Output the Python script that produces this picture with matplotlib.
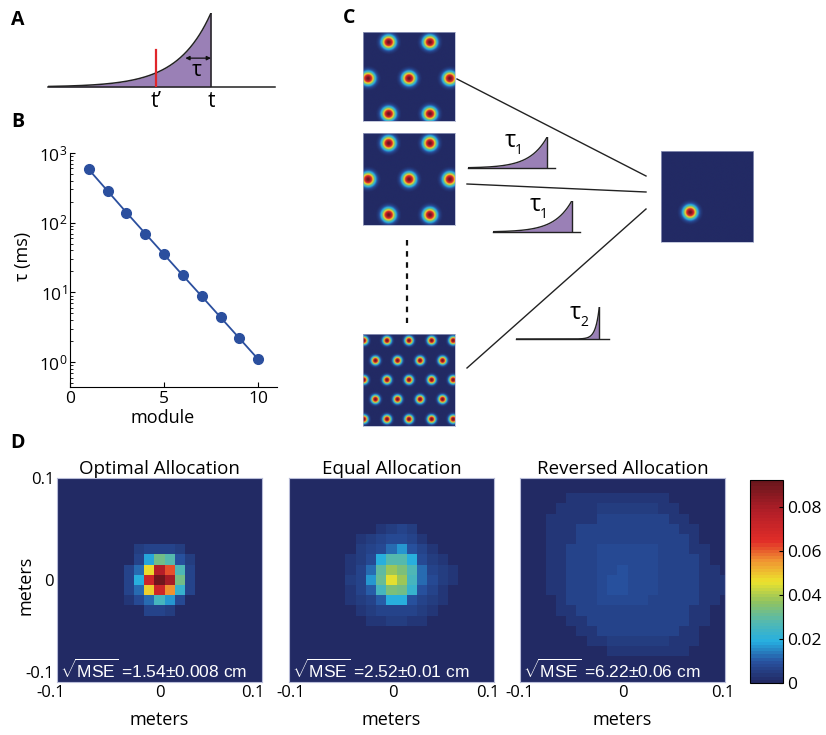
import numpy as np
import matplotlib
matplotlib.use('Agg')
import matplotlib.pyplot as plt
import matplotlib.transforms as mtransforms
from matplotlib.colors import LinearSegmentedColormap, Normalize
from matplotlib.cm import ScalarMappable

plt.rcParams['font.family'] = ['Open Sans', 'DejaVu Sans']
plt.rcParams['mathtext.fontset'] = 'custom'
plt.rcParams['mathtext.rm'] = 'Liberation Sans'
plt.rcParams['mathtext.it'] = 'Liberation Sans:italic'
plt.rcParams['mathtext.bf'] = 'Liberation Sans:bold'

W, H = 826, 735

# ---------------- data ----------------
# Panel B
modules = [1, 2, 3, 4, 5, 6, 7, 8, 9, 10]
tau_ms = [580, 285, 140, 70, 35, 17.5, 8.8, 4.4, 2.2, 1.1]
b_xticks = [0, 5, 10]
b_yticks = [1, 10, 100, 1000]

# Panel A / C kernel time constants (fraction of kernel width)
tau_A = 0.146
tau_1 = 0.20
tau_2 = 0.04

# Panel C grid-cell bump centres (fraction of image width / height from top-left)
c1_x = [0.278, 0.729, 0.054, 0.501, 0.946, 0.278, 0.729]
c1_y = [0.112, 0.112, 0.520, 0.520, 0.520, 0.920, 0.920]
c2_x = [0.278, 0.729, 0.054, 0.501, 0.946, 0.278, 0.729]
c2_y = [0.109, 0.109, 0.502, 0.502, 0.502, 0.891, 0.891]
c3_x = [0.007, 0.260, 0.500, 0.747, 0.982,
        0.134, 0.375, 0.621, 0.866,
        0.007, 0.260, 0.500, 0.747, 0.982,
        0.134, 0.375, 0.621, 0.866,
        0.007, 0.260, 0.500, 0.747, 0.982]
c3_y = [0.069] * 5 + [0.287] * 4 + [0.498] * 5 + [0.710] * 4 + [0.927] * 5
out_x = [0.314]
out_y = [0.673]
c_sigma_big = 0.047
c_sigma_small = 0.028

# Panel D decoded-position histograms (21x21 bins, units of 1e-3, background BG)
BG = 1
VMAX = 0.0925
optimal_rows = {
    7: (8, [5, 6, 7, 6, 5]),
    8: (8, [7, 18, 33, 28, 10, 5]),
    9: (7, [7, 12, 47, 78, 62, 27, 6]),
    10: (7, [7, 20, 70, 90, 80, 32, 7]),
    11: (7, [6, 12, 48, 70, 56, 23, 7]),
    12: (7, [4, 8, 12, 26, 16, 8]),
    13: (9, [6, 6, 5]),
}
equal_rows = {
    5: (9, [4, 5, 6, 5]),
    6: (7, [4, 5, 7, 8, 8, 6, 4]),
    7: (7, [5, 6, 8, 13, 16, 9, 6, 4]),
    8: (6, [4, 5, 8, 20, 28, 28, 20, 8, 5, 4]),
    9: (6, [4, 6, 12, 29, 38, 34, 27, 12, 7, 5, 4]),
    10: (6, [5, 7, 16, 31, 46, 38, 26, 12, 8, 5, 4]),
    11: (6, [4, 7, 11, 25, 34, 32, 22, 9, 6, 4]),
    12: (6, [4, 5, 7, 11, 20, 20, 10, 7, 5, 4]),
    13: (7, [4, 5, 6, 7, 7, 6, 5, 4]),
    14: (8, [4, 4, 5, 5, 4, 4]),
}
reversed_rows = {
    2: (5, [4, 4, 4, 4, 4, 4, 4, 4, 4, 4]),
    3: (4, [4, 4, 4, 4, 5, 5, 5, 5, 5, 5, 4, 4]),
    4: (3, [4, 4, 4, 4, 4, 6, 6, 6, 6, 6, 6, 6, 4, 4]),
    5: (3, [4, 4, 4, 6, 6, 6, 7, 7, 7, 7, 6, 6, 6, 4, 4]),
    6: (3, [4, 4, 4, 6, 6, 7, 7, 7, 7, 7, 7, 6, 6, 6, 4]),
    7: (3, [4, 4, 6, 6, 7, 8, 8, 8, 8, 8, 8, 7, 6, 6, 4, 4]),
    8: (3, [4, 4, 6, 6, 7, 8, 8, 8, 8, 8, 8, 7, 6, 6, 6, 4]),
    9: (3, [4, 4, 6, 6, 7, 8, 8, 10, 8, 8, 8, 7, 6, 6, 6, 4, 4]),
    10: (3, [4, 4, 6, 6, 7, 8, 10, 10, 8, 8, 8, 7, 6, 6, 6, 4, 4, 4]),
    11: (3, [4, 4, 6, 6, 7, 8, 9, 9, 8, 8, 8, 7, 6, 6, 6, 4, 4, 4]),
    12: (4, [4, 6, 6, 6, 8, 8, 8, 8, 8, 7, 7, 6, 6, 6, 4, 4]),
    13: (4, [4, 4, 6, 6, 7, 7, 7, 7, 7, 7, 6, 6, 6, 4, 4]),
    14: (5, [4, 4, 6, 6, 7, 7, 7, 7, 6, 6, 6, 6, 4, 4]),
    15: (6, [4, 4, 6, 6, 6, 6, 6, 6, 6, 6, 4, 4]),
    16: (7, [4, 4, 5, 5, 5, 5, 5, 5, 4, 4, 4]),
    17: (9, [4, 4, 4, 4, 4, 4, 4, 4]),
}
d_titles = ['Optimal Allocation', 'Equal Allocation', 'Reversed Allocation']
d_mse = [r'$\sqrt{\mathrm{MSE}}$ =1.54±0.008 cm',
         r'$\sqrt{\mathrm{MSE}}$ =2.52±0.01 cm',
         r'$\sqrt{\mathrm{MSE}}$ =6.22±0.06 cm']
d_ticks = [-0.1, 0, 0.1]
d_ticklabels = ['-0.1', '0', '0.1']
cb_ticks = [0, 0.02, 0.04, 0.06, 0.08]
cb_ticklabels = ['0', '0.02', '0.04', '0.06', '0.08']

# ---------------- styling ----------------
stops = [(0.00, (34, 42, 100)), (0.10, (40, 82, 160)), (0.20, (38, 175, 225)),
         (0.30, (85, 185, 175)), (0.40, (145, 195, 95)), (0.50, (236, 226, 45)),
         (0.60, (240, 150, 50)), (0.70, (225, 45, 40)), (0.85, (178, 30, 40)),
         (1.00, (105, 22, 28))]
cmap = LinearSegmentedColormap.from_list(
    'jetish', [(p, tuple(c / 255 for c in rgb)) for p, rgb in stops], N=64)
PURPLE = '#9a80b6'
BLUE = '#2b4f9e'

fig = plt.figure(figsize=(W / 100, H / 100), dpi=100)


def px_axes(x0, y0, x1, y1):
    return fig.add_axes([x0 / W, 1 - y1 / H, (x1 - x0) / W, (y1 - y0) / H])


def ftext(x, y, s, **kw):
    fig.text(x / W, 1 - y / H, s, **kw)


def px_shift(dx, dy=0):
    return mtransforms.ScaledTranslation(dx / 100, -dy / 100, fig.dpi_scale_trans)


# panel letters
for lab, (x, y) in zip('ABCD', [(18, 20), (18, 122), (349, 18), (18, 443)]):
    ftext(x, y, lab, fontsize=14, fontweight='bold', ha='center', va='center')


def kernel(ax, tau, peak, lw=1.0):
    x = np.linspace(0, peak, 300)
    y = np.exp((x - peak) / tau)
    ax.fill_between(x, 0, y, color=PURPLE, lw=0)
    ax.plot(x, y, color='#222222', lw=lw)
    ax.plot([peak, peak], [0, 1], color='#222222', lw=lw)
    ax.plot([0, 1], [0, 0], color='#222222', lw=lw, clip_on=False)
    ax.set_xlim(0, 1)
    ax.set_ylim(0, 1)
    ax.axis('off')


# ---------------- Panel A ----------------
axA = px_axes(48, 13, 275, 87)
peakA = 0.718
kernel(axA, tau_A, peakA, lw=1.1)
axA.plot([0.476, 0.476], [0, 0.5], color='#e0262b', lw=1.6)
axA.annotate('', xy=(0.605, 0.39), xytext=(peakA, 0.39),
             arrowprops=dict(arrowstyle='<|-|>', lw=0.9, color='#111111',
                             mutation_scale=6, shrinkA=0, shrinkB=0))
axA.text(0.655, 0.22, 'τ', fontsize=15, ha='center', va='center')
axA.text(0.476, -0.2, 't’', fontsize=15, ha='center', va='center')
axA.text(peakA, -0.2, 't', fontsize=15, ha='center', va='center')

# ---------------- Panel B ----------------
axB = px_axes(70, 153, 277, 387)
axB.semilogy(modules, tau_ms, color=BLUE, lw=1.3, marker='o', ms=7,
             mfc=BLUE, mec=BLUE)
axB.set_xlim(0, 11)
axB.set_ylim(0.44, 1000)
axB.set_xticks(b_xticks)
axB.set_yticks(b_yticks)
axB.spines['top'].set_visible(False)
axB.spines['right'].set_visible(False)
axB.tick_params(which='both', direction='in', labelsize=12.5)
axB.tick_params(axis='y', pad=2)
axB.tick_params(axis='x', pad=3)
axB.tick_params(which='major', length=3.5)
axB.tick_params(which='minor', length=2)
ftext(23, 256, 'τ (ms)', fontsize=13, rotation=90, ha='center', va='center')
ftext(163, 418, 'module', fontsize=13, ha='center', va='center')

# ---------------- Panel C ----------------
gx = np.linspace(0, 1, 240)
GX, GY = np.meshgrid(gx, gx)


def grid_image(ax, xs, ys, sigma):
    img = np.zeros_like(GX)
    for cx, cy in zip(xs, ys):
        img = np.maximum(img, np.exp(-((GX - cx) ** 2 + (GY - cy) ** 2) / (2 * sigma ** 2)))
    ax.imshow(img, cmap=cmap, vmin=0, vmax=1, extent=[0, 1, 1, 0],
              interpolation='bilinear', aspect='auto')
    ax.set_xticks([])
    ax.set_yticks([])
    for s in ax.spines.values():
        s.set_color('#aab0cc')
        s.set_linewidth(0.5)


grid_image(px_axes(363, 32, 455, 121), c1_x, c1_y, c_sigma_big)
grid_image(px_axes(363, 133, 455, 225), c2_x, c2_y, c_sigma_big)
grid_image(px_axes(363, 334, 455, 426), c3_x, c3_y, c_sigma_small)
grid_image(px_axes(661, 151, 753, 242), out_x, out_y, c_sigma_big)

k1 = px_axes(468, 137, 555, 168)
kernel(k1, tau_1, 0.91)
k2 = px_axes(493, 201, 580, 232)
kernel(k2, tau_1, 0.905)
k3 = px_axes(516, 307, 609, 339)
kernel(k3, tau_2, 0.896)

ftext(510, 141, 'τ', fontsize=17, ha='center', va='center')
ftext(519, 150, '1', fontsize=10, ha='center', va='center')
ftext(535, 205, 'τ', fontsize=17, ha='center', va='center')
ftext(544, 214, '1', fontsize=10, ha='center', va='center')
ftext(575, 313, 'τ', fontsize=17, ha='center', va='center')
ftext(584, 323, '2', fontsize=10, ha='center', va='center')

ov = fig.add_axes([0, 0, 1, 1])
ov.set_xlim(0, W)
ov.set_ylim(H, 0)
ov.axis('off')
connectors = [((457, 79), (646, 176)), ((467, 184), (646, 192)), ((467, 368), (646, 209))]
for (xa, ya), (xb, yb) in connectors:
    ov.plot([xa, xb], [ya, yb], color='#222222', lw=1.0)
ov.plot([406.5, 406.5], [240, 323], color='#111111', lw=1.6, ls=(0, (2.5, 2.5)))

# ---------------- Panel D ----------------
def build(rows):
    m = np.full((21, 21), BG, dtype=float)
    for r, (c0, vals) in rows.items():
        m[r, c0:c0 + len(vals)] = vals
    return m * 1e-3


maps = [build(optimal_rows), build(equal_rows), build(reversed_rows)]
boxes = [(57, 478, 262, 682), (289, 478, 494, 682), (520, 478, 725, 682)]
# horizontal pixel nudges of the x tick labels (-0.1, 0, 0.1) per panel
xlabel_nudge = [(-6, 0, -9), (2, 1, -6), (0, 0, -2)]
for i, (m, box) in enumerate(zip(maps, boxes)):
    ax = px_axes(*box)
    ax.imshow(m, cmap=cmap, vmin=0, vmax=VMAX, origin='upper',
              extent=[-0.105, 0.105, -0.105, 0.105], interpolation='nearest',
              aspect='auto')
    ax.set_xlim(-0.1, 0.1)
    ax.set_ylim(-0.1, 0.1)
    ax.set_xticks(d_ticks)
    ax.set_xticklabels(d_ticklabels)
    if i == 0:
        ax.set_yticks(d_ticks)
        ylabs = ax.set_yticklabels(d_ticklabels)
        ylabs[0].set_va('bottom')
        ylabs[2].set_transform(ylabs[2].get_transform() + px_shift(0, 3))
    else:
        ax.set_yticks([])
    ax.tick_params(length=0, labelsize=12, pad=2)
    for lab, dx in zip(ax.get_xticklabels(), xlabel_nudge[i]):
        lab.set_transform(lab.get_transform() + px_shift(dx))
    for s in ax.spines.values():
        s.set_color('#b8bcd8')
        s.set_linewidth(0.8)
    ax.set_title(d_titles[i], fontsize=13.5, pad=3)
    ax.text(0.015, 0.022, d_mse[i], transform=ax.transAxes, color='white',
            fontsize=12.5, family='Liberation Sans', va='baseline', ha='left')
    ftext((box[0] + box[2]) / 2, 720, 'meters', fontsize=13, ha='center', va='center')
ftext(25, 585, 'meters', fontsize=13, rotation=90, ha='center', va='center')

cax = px_axes(750, 480, 783, 683)
cb = fig.colorbar(ScalarMappable(norm=Normalize(0, VMAX), cmap=cmap), cax=cax)
cb.set_ticks(cb_ticks)
cb.set_ticklabels(cb_ticklabels)
cb.ax.tick_params(direction='in', length=3, labelsize=12.5, pad=3)
cb.outline.set_linewidth(0.8)

fig.savefig('out.png', dpi=100)
